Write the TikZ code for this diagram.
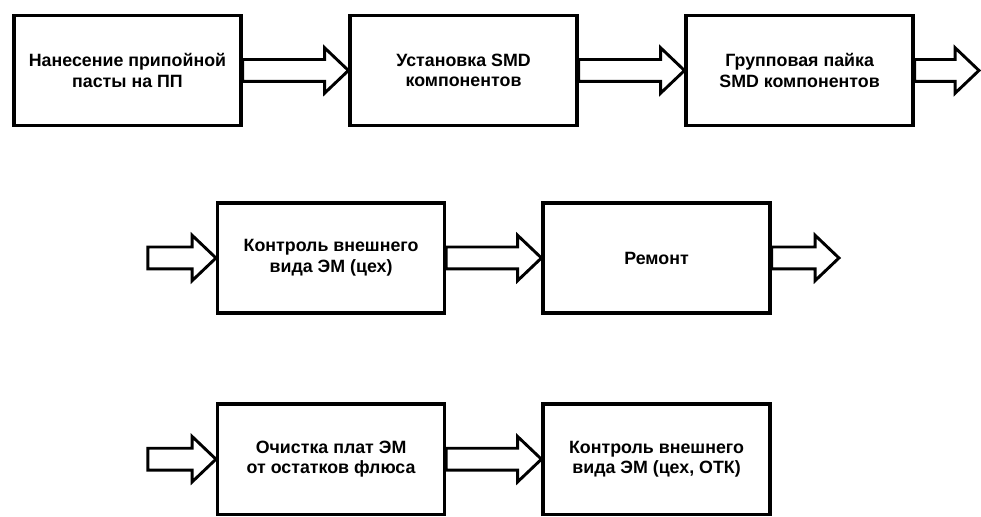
\documentclass[tikz,border=0pt]{standalone}
\usepackage{fontspec}
\setmainfont{Liberation Sans}
\usetikzlibrary{positioning,calc}

\begin{document}
\begin{tikzpicture}[
  block/.style ={draw,line width=2.6pt,
                 minimum width=6.0cm,minimum height=2.92cm,
                 font=\bfseries\fontsize{13.4}{15.5}\selectfont,align=center},
  fatarr/.style={draw,line width=2.2pt,line join=miter,
                 to path={($(\tikztostart)+(0,0.29)$)
                   -- ($(\tikztotarget)+(-0.63,0.29)$)
                   -- ($(\tikztotarget)+(-0.63,0.60)$)
                   -- (\tikztotarget)
                   -- ($(\tikztotarget)+(-0.63,-0.60)$)
                   -- ($(\tikztotarget)+(-0.63,-0.29)$)
                   -- ($(\tikztostart)+(0,-0.29)$) -- cycle}},
]
\useasboundingbox (0,0) rectangle (25.956,-13.653);

%% ── Row 1: paste, placement, soldering ─────────────────────────────────────
\node[block] (paste) at (3.373,-1.865) {Нанесение припойной\\пасты на ПП};
\node[block] (place) [right=2.80cm of paste] {Установка SMD\\компонентов};
\node[block] (solder)[right=2.80cm of place] {Групповая пайка\\SMD компонентов};

%% ── Row 2: inspection, repair ──────────────────────────────────────────────
\node[block] (insp)  at (8.76,-6.826) {Контроль внешнего\\вида ЭМ (цех)};
\node[block] (repair)[right=2.52cm of insp] {Ремонт};

%% ── Row 3: cleaning, final inspection ──────────────────────────────────────
\node[block] (clean) at (8.76,-12.15) {Очистка плат ЭМ\\от остатков флюса};
\node[block] (final) [right=2.52cm of clean] {Контроль внешнего\\вида ЭМ (цех, ОТК)};

%% ── Free ends of the in/out arrows ─────────────────────────────────────────
\coordinate (soldout) at ($(solder.east)+(1.70,0)$);
\coordinate (inspin)  at ($(insp.west)+(-1.80,0)$);
\coordinate (repout)  at ($(repair.east)+(1.78,0)$);
\coordinate (cleanin) at ($(clean.west)+(-1.80,0)$);

%% ── Connections ────────────────────────────────────────────────────────────
\path[fatarr] (paste.east)  to (place.west);
\path[fatarr] (place.east)  to (solder.west);
\path[fatarr] (solder.east) to (soldout);
\path[fatarr] (inspin)      to (insp.west);
\path[fatarr] (insp.east)   to (repair.west);
\path[fatarr] (repair.east) to (repout);
\path[fatarr] (cleanin)     to (clean.west);
\path[fatarr] (clean.east)  to (final.west);

\end{tikzpicture}
\end{document}
